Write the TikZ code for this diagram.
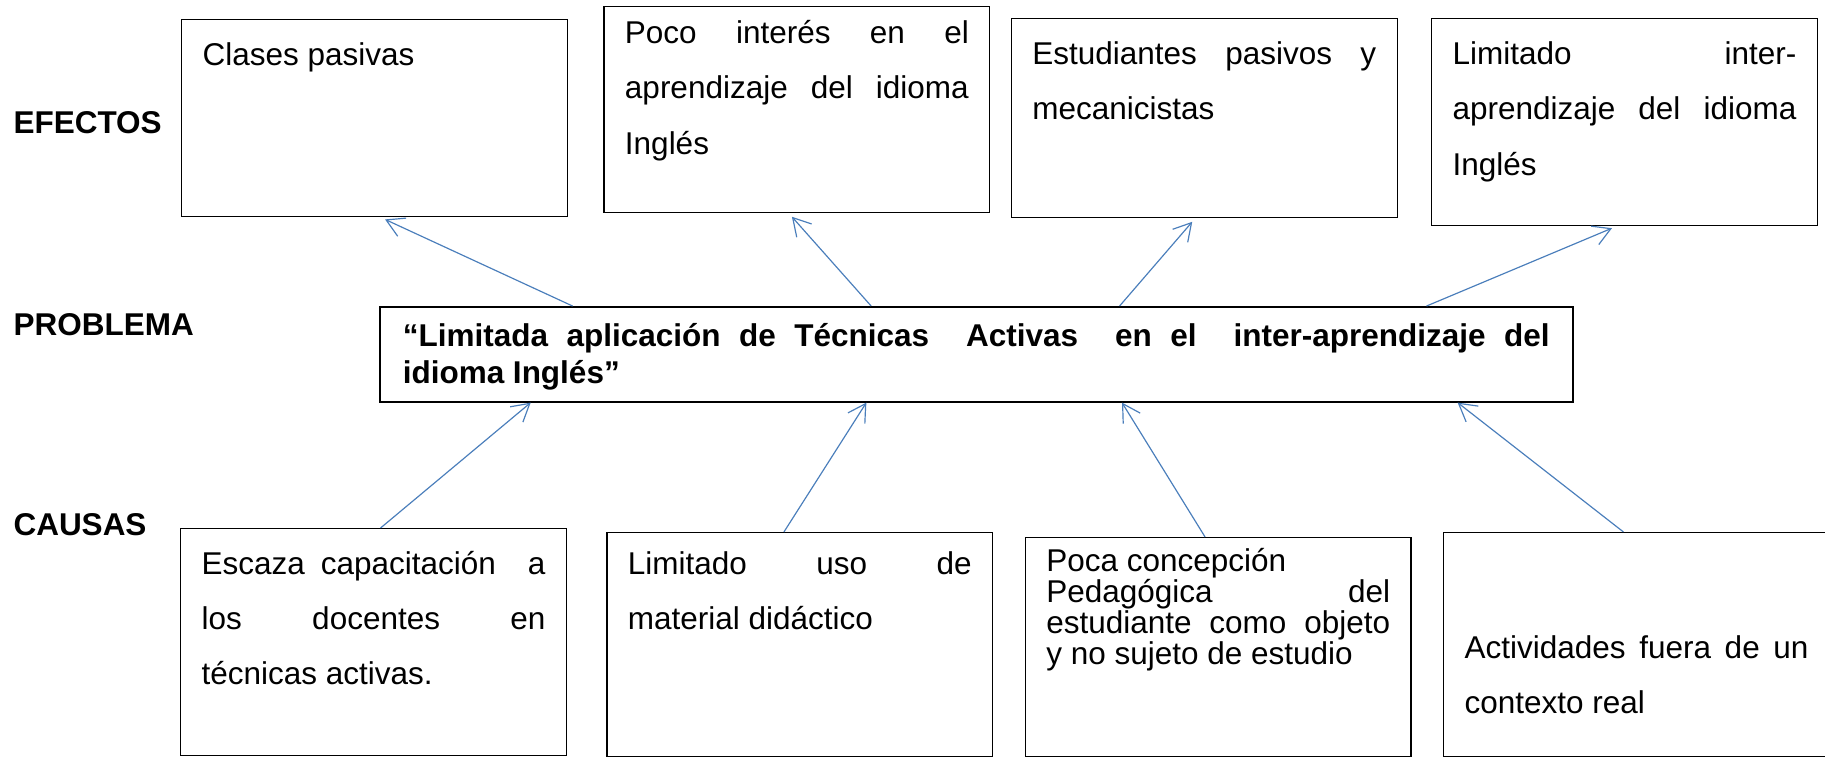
\documentclass[tikz,border=0pt]{standalone}
\usepackage{fontspec}
\setmainfont{Liberation Sans}
\usetikzlibrary{arrows.meta, positioning, calc}

\definecolor{linkblue}{HTML}{4A7EBB}
\hyphenpenalty=10000
\newcommand\tightlines{\lineskiplimit=-20pt\relax}

\begin{document}
\begin{tikzpicture}[
        x=0.381pt, y=-0.381pt,
        % Global Styles
        effectbox/.style={rectangle, draw, line width=0.5pt, text width=131pt, inner xsep=8pt, inner ysep=0pt, align=justify, anchor=north west, font=\fontsize{12}{21}\selectfont},
        causebox/.style={effectbox},
        problembox/.style={rectangle, draw, line width=0.6pt, text width=437pt, inner xsep=8.75pt, inner ysep=0pt, align=justify, anchor=north west, font=\bfseries\fontsize{12}{14}\selectfont},
        rowtitle/.style={anchor=west, inner sep=0pt, font=\bfseries\fontsize{12}{14}\selectfont},
        arrowline/.style={draw, linkblue, line width=0.45pt, -{Straight Barb[length=6.6pt, width=7.6pt]}} % Open arrow
    ]

    \useasboundingbox (0,0) rectangle (1825,757);

    % --- Nodes ---

    % 1. Row titles
    \node [rowtitle] (efectos) at (13,123) {EFECTOS};
    \node [rowtitle] (problema) at (13,325) {PROBLEMA};
    \node [rowtitle] (causas) at (13,525) {CAUSAS};

    % 2. Effects
    \node [effectbox, text height=17.3pt, text depth=57.8pt] (e1) at (181,19) {Clases pasivas};
    \node [effectbox, right=13.4pt of e1.north east, anchor=north west, yshift=5pt, text height=14.2pt, text depth=64.3pt] (e2) {Poco interés en el \linebreak aprendizaje del idioma \linebreak Inglés};
    \node [effectbox, right=7.7pt of e2.north east, anchor=north west, yshift=-4.6pt, text height=17.6pt, text depth=58.2pt] (e3) {Estudiantes pasivos y \linebreak mecanicistas};
    \node [effectbox, right=12.6pt of e3.north east, anchor=north west, text height=17.6pt, text depth=61.3pt] (e4) {Limitado inter-\linebreak aprendizaje del idioma \linebreak Inglés};

    % 3. Problem
    \node [problembox, text height=15.3pt, text depth=20.9pt] (prob) at (379,306) {``Limitada aplicación de Técnicas\ \ Activas\ \ en el\ \ inter-aprendizaje del \linebreak idioma Inglés''};

    % 4. Causes
    \node [causebox, text height=17.3pt, text depth=69.2pt] (c1) at (180,528) {Escaza capacitación\ \ a \linebreak los docentes en \linebreak técnicas activas.};
    \node [causebox, right=14.9pt of c1.north east, anchor=north west, yshift=-1.5pt, text height=16.1pt, text depth=69.2pt] (c2) {Limitado uso de \linebreak material didáctico};
    \node [causebox, right=11.9pt of c2.north east, anchor=north west, yshift=-1.9pt, text height=13pt, text depth=70.4pt, font=\fontsize{12}{11.8}\selectfont\tightlines] (c3) {Poca concepción\\ Pedagógica del \linebreak estudiante como objeto \linebreak y no sujeto de estudio};
    \node [causebox, right=11.9pt of c3.north east, anchor=north west, yshift=1.9pt, text height=48.1pt, text depth=37.2pt] (c4) {Actividades fuera de un \linebreak contexto real};

    % --- Paths ---

    % Problem to Effects
    \draw [arrowline, shorten >=1.8pt] ($(prob.north west)!0.162!(prob.north east)$) -- ($(e1.south west)!0.516!(e1.south east)$);
    \draw [arrowline, shorten >=1.8pt] ($(prob.north west)!0.412!(prob.north east)$) -- ($(e2.south west)!0.479!(e2.south east)$);
    \draw [arrowline, shorten >=1.8pt] ($(prob.north west)!0.620!(prob.north east)$) -- ($(e3.south west)!0.477!(e3.south east)$);
    \draw [arrowline, shorten >=1.8pt] ($(prob.north west)!0.877!(prob.north east)$) -- ($(e4.south west)!0.479!(e4.south east)$);

    % Causes to Problem
    \draw [arrowline] ($(c1.north west)!0.518!(c1.north east)$) -- ($(prob.south west)!0.127!(prob.south east)$);
    \draw [arrowline] ($(c2.north west)!0.459!(c2.north east)$) -- ($(prob.south west)!0.408!(prob.south east)$);
    \draw [arrowline] ($(c3.north west)!0.466!(c3.north east)$) -- ($(prob.south west)!0.622!(prob.south east)$);
    \draw [arrowline] ($(c4.north west)!0.466!(c4.north east)$) -- ($(prob.south west)!0.903!(prob.south east)$);

\end{tikzpicture}
\end{document}
